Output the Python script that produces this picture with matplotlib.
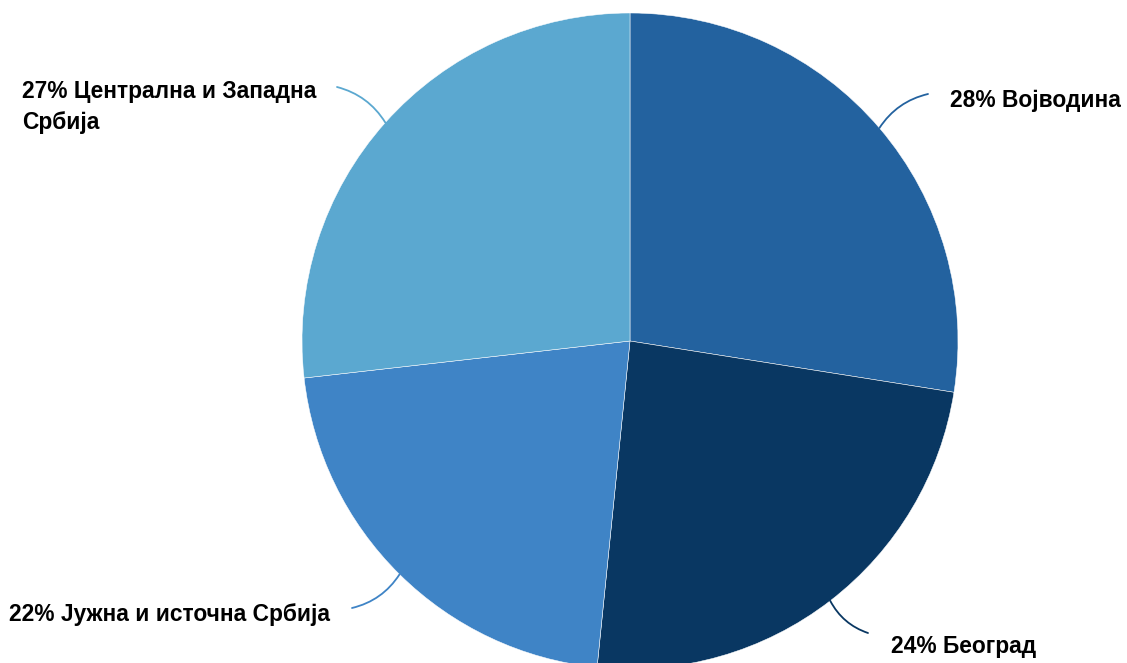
import numpy as np
import matplotlib.pyplot as plt

plt.rcParams['font.family'] = ['Liberation Sans', 'DejaVu Sans']

# podaci
regions = ['Војводина', 'Београд', 'Јужна и источна Србија', 'Централна и Западна\nСрбија']
shares = [27.5, 24.1, 21.6, 26.8]
pct_labels = ['28%', '24%', '22%', '27%']
colors = ['#23629f', '#093762', '#3f84c6', '#5ba8d0']

W, H = 1127, 663
fig = plt.figure(figsize=(W / 100, H / 100), dpi=100)
ax = fig.add_axes([0, 0, 1, 1])

cx, cy, R = 630, 322, 328
wedges, _ = ax.pie(shares, colors=colors, startangle=90, counterclock=False,
                   center=(cx, cy), radius=R,
                   wedgeprops=dict(edgecolor='white', linewidth=0.35))
ax.set_xlim(0, W)
ax.set_ylim(0, H)
ax.set_aspect('equal')
ax.axis('off')

# krajevi linija i pozicije tekstova
line_ends = [(928, 569), (868, 30), (352, 55), (337, 576)]
rads = [0.2, -0.2, 0.2, -0.2]
text_pos = [(950, 563, 'left', 'center'), (891, 16, 'left', 'center'),
            (330, 49, 'right', 'center'), (22, 556, 'left', 'center')]

for w, col, end, rad, tp, name, pct in zip(wedges, colors, line_ends, rads,
                                          text_pos, regions, pct_labels):
    ang = np.deg2rad((w.theta1 + w.theta2) / 2)
    px, py = cx + R * np.cos(ang), cy + R * np.sin(ang)
    ax.annotate('', xy=(px, py), xytext=end,
                arrowprops=dict(arrowstyle='-', color=col, lw=1.3,
                                shrinkA=0, shrinkB=0,
                                connectionstyle=f'arc3,rad={rad}'))
    ax.text(tp[0], tp[1], f'{pct} {name}', ha=tp[2], va=tp[3],
            fontsize=16.4, fontweight='bold', color='black', linespacing=1.45)

fig.savefig('out.png', dpi=100)
